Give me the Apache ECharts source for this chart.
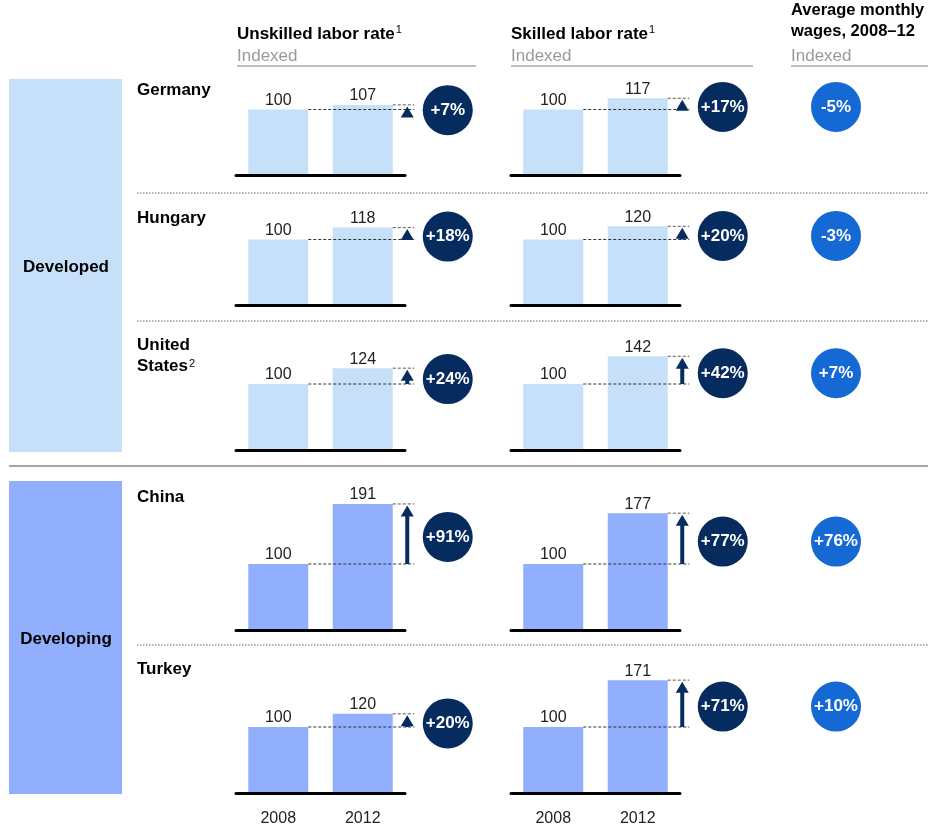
<!DOCTYPE html>
<html><head><meta charset="utf-8">
<script src="https://cdn.jsdelivr.net/npm/echarts@6/dist/echarts.min.js"></script>
<style>html,body{margin:0;padding:0;background:#fff}#c{width:928px;height:829px}</style>
</head><body><div id="c"></div>
<script>
// ---- data ----
const years = ['2008', '2012'];
const countries = ['Germany', 'Hungary', 'United States', 'China', 'Turkey'];
const countryLabels = ['Germany', 'Hungary', 'United\nStates{s|2}', 'China', 'Turkey'];
const groupOf = ['Developed', 'Developed', 'Developed', 'Developing', 'Developing'];
const unskilled2008 = [100, 100, 100, 100, 100];
const unskilled2012 = [107, 118, 124, 191, 120];
const skilled2008 = [100, 100, 100, 100, 100];
const skilled2012 = [117, 120, 142, 177, 171];
const wageChange = [-5, -3, 7, 76, 10];

// ---- layout / style ----
const FONT = '"Liberation Sans", Arial, Helvetica, sans-serif';
const NAVY = '#062b5f';
const WAGE_BLUE = '#1569d4';
const BAR_COLOR = { Developed: '#c6e0fa', Developing: '#92affe' };
const baselines = [175.5, 305.5, 450, 630, 793];
const colLeft = [236, 511];
const GRID_W = 169, GRID_H = 132, YMAX = 200;
const BAR_W = 60;
const WAGE_CX = 836;
const HF = 17; // heading font size

const grids = [], xAxes = [], yAxes = [], series = [];
countries.forEach((c, i) => {
  [0, 1].forEach(j => {
    const k = grids.length;
    grids.push({ left: colLeft[j], top: baselines[i] - GRID_H, width: GRID_W, height: GRID_H });
    const last = i === countries.length - 1;
    xAxes.push({
      gridIndex: k, type: 'category', data: years, z: 10,
      axisLine: { show: true, lineStyle: { color: '#000', width: 3 } },
      axisTick: { show: false },
      axisLabel: { show: last, fontSize: 16, color: '#222', fontFamily: FONT, margin: 18 }
    });
    yAxes.push({ gridIndex: k, type: 'value', min: 0, max: YMAX, show: false, splitLine: { show: false } });
    const v1 = j === 0 ? unskilled2008[i] : skilled2008[i];
    const v2 = j === 0 ? unskilled2012[i] : skilled2012[i];
    series.push({
      type: 'bar', xAxisIndex: k, yAxisIndex: k, barWidth: BAR_W,
      data: [v1, v2],
      itemStyle: { color: BAR_COLOR[groupOf[i]] },
      label: { show: true, position: 'top', distance: 1, fontSize: 16, color: '#222', fontFamily: FONT },
      silent: true, z: 2
    });
    series.push({
      type: 'custom', xAxisIndex: k, yAxisIndex: k, z: 5, silent: true,
      data: [[0, v1, v2, j === 1 ? wageChange[i] : null]],
      encode: { x: 0, y: [1, 2] },
      renderItem: (params, api) => {
        const a = api.value(1), b = api.value(2), w = api.value(3);
        const p1 = api.coord([0, a]);
        const p2 = api.coord([1, b]);
        const x1r = p1[0] + BAR_W / 2, x2r = p2[0] + BAR_W / 2;
        const ax = x2r + 14.5, lineEnd = ax + 7;
        const y1 = p1[1], y2 = p2[1];
        const apex = y2 + 1.5, base = apex + 11;
        const cy = (y1 + y2) / 2 + 3;
        const pct = Math.round((b / a - 1) * 100);
        const children = [
          { type: 'line', shape: { x1: x1r, y1: y1, x2: lineEnd, y2: y1 }, style: { stroke: '#333', lineWidth: 1, lineDash: [3, 2] } },
          { type: 'line', shape: { x1: x2r, y1: y2, x2: lineEnd, y2: y2 }, style: { stroke: '#555', lineWidth: 1, lineDash: [3, 2] } }
        ];
        if (base < y1) {
          children.push({ type: 'rect', shape: { x: ax - 2, y: base - 1, width: 4, height: y1 - base + 1 }, style: { fill: NAVY } });
        }
        children.push({ type: 'polygon', shape: { points: [[ax, apex], [ax - 6.5, base], [ax + 6.5, base]] }, style: { fill: NAVY } });
        children.push({ type: 'circle', shape: { cx: x2r + 55, cy: cy, r: 25 }, style: { fill: NAVY } });
        children.push({ type: 'text', style: { x: x2r + 55, y: cy, text: (pct > 0 ? '+' : '') + pct + '%', fill: '#fff', font: 'bold 17px ' + FONT, align: 'center', verticalAlign: 'middle' } });
        if (w !== null && w !== undefined && !isNaN(w)) {
          children.push({ type: 'circle', shape: { cx: WAGE_CX, cy: cy, r: 25 }, style: { fill: WAGE_BLUE } });
          children.push({ type: 'text', style: { x: WAGE_CX, y: cy, text: (w > 0 ? '+' : '') + w + '%', fill: '#fff', font: 'bold 17px ' + FONT, align: 'center', verticalAlign: 'middle' } });
        }
        return { type: 'group', children };
      }
    });
  });
});

const rowLabelY = [88, 216, 343, 495, 667];
const sup = { font: '11px ' + FONT, fill: '#000', verticalAlign: 'bottom', padding: [0, 0, 8, 1] };
const graphic = [
  { type: 'rect', shape: { x: 9, y: 79, width: 113, height: 373 }, style: { fill: BAR_COLOR.Developed }, z: 0 },
  { type: 'rect', shape: { x: 9, y: 481, width: 113, height: 313 }, style: { fill: BAR_COLOR.Developing }, z: 0 },
  { type: 'line', shape: { x1: 9, y1: 466, x2: 928, y2: 466 }, style: { stroke: '#888', lineWidth: 1.5 } },
  { type: 'line', shape: { x1: 137, y1: 193, x2: 928, y2: 193 }, style: { stroke: '#999', lineWidth: 1.5, lineDash: [1.5, 1.5] } },
  { type: 'line', shape: { x1: 137, y1: 321, x2: 928, y2: 321 }, style: { stroke: '#999', lineWidth: 1.5, lineDash: [1.5, 1.5] } },
  { type: 'line', shape: { x1: 137, y1: 645, x2: 928, y2: 645 }, style: { stroke: '#999', lineWidth: 1.5, lineDash: [1.5, 1.5] } },
  { type: 'line', shape: { x1: 237, y1: 66, x2: 476, y2: 66 }, style: { stroke: '#aaa', lineWidth: 1.5 } },
  { type: 'line', shape: { x1: 511, y1: 66, x2: 753, y2: 66 }, style: { stroke: '#aaa', lineWidth: 1.5 } },
  { type: 'line', shape: { x1: 791, y1: 66, x2: 928, y2: 66 }, style: { stroke: '#aaa', lineWidth: 1.5 } },
  { type: 'text', style: { x: 237, y: 34, text: '{b|Unskilled labor rate}{s|1}', verticalAlign: 'middle', rich: { b: { font: 'bold ' + HF + 'px ' + FONT, fill: '#000' }, s: sup } } },
  { type: 'text', style: { x: 511, y: 34, text: '{b|Skilled labor rate}{s|1}', verticalAlign: 'middle', rich: { b: { font: 'bold ' + HF + 'px ' + FONT, fill: '#000' }, s: sup } } },
  { type: 'text', style: { x: 791, y: 10, text: 'Average monthly', font: 'bold 16.5px ' + FONT, fill: '#000', verticalAlign: 'middle' } },
  { type: 'text', style: { x: 791, y: 31.5, text: 'wages, 2008–12', font: 'bold 16.5px ' + FONT, fill: '#000', verticalAlign: 'middle' } },
  { type: 'text', style: { x: 237, y: 56, text: 'Indexed', font: HF + 'px ' + FONT, fill: '#999', verticalAlign: 'middle' } },
  { type: 'text', style: { x: 511, y: 56, text: 'Indexed', font: HF + 'px ' + FONT, fill: '#999', verticalAlign: 'middle' } },
  { type: 'text', style: { x: 791, y: 56, text: 'Indexed', font: HF + 'px ' + FONT, fill: '#999', verticalAlign: 'middle' } },
  { type: 'text', style: { x: 66, y: 267, text: 'Developed', font: 'bold ' + HF + 'px ' + FONT, fill: '#000', align: 'center', verticalAlign: 'middle' } },
  { type: 'text', style: { x: 66, y: 639, text: 'Developing', font: 'bold ' + HF + 'px ' + FONT, fill: '#000', align: 'center', verticalAlign: 'middle' } }
];
countryLabels.forEach((t, i) => {
  graphic.push({ type: 'text', style: { x: 137, y: rowLabelY[i] - 8, text: t, font: 'bold ' + HF + 'px ' + FONT, fill: '#000', verticalAlign: 'top', lineHeight: 21,
    rich: { s: sup } } });
});

const chart = echarts.init(document.getElementById('c'), null, { renderer: 'canvas' });
chart.setOption({
  animation: false,
  grid: grids, xAxis: xAxes, yAxis: yAxes, series: series, graphic: graphic
});
</script></body></html>
